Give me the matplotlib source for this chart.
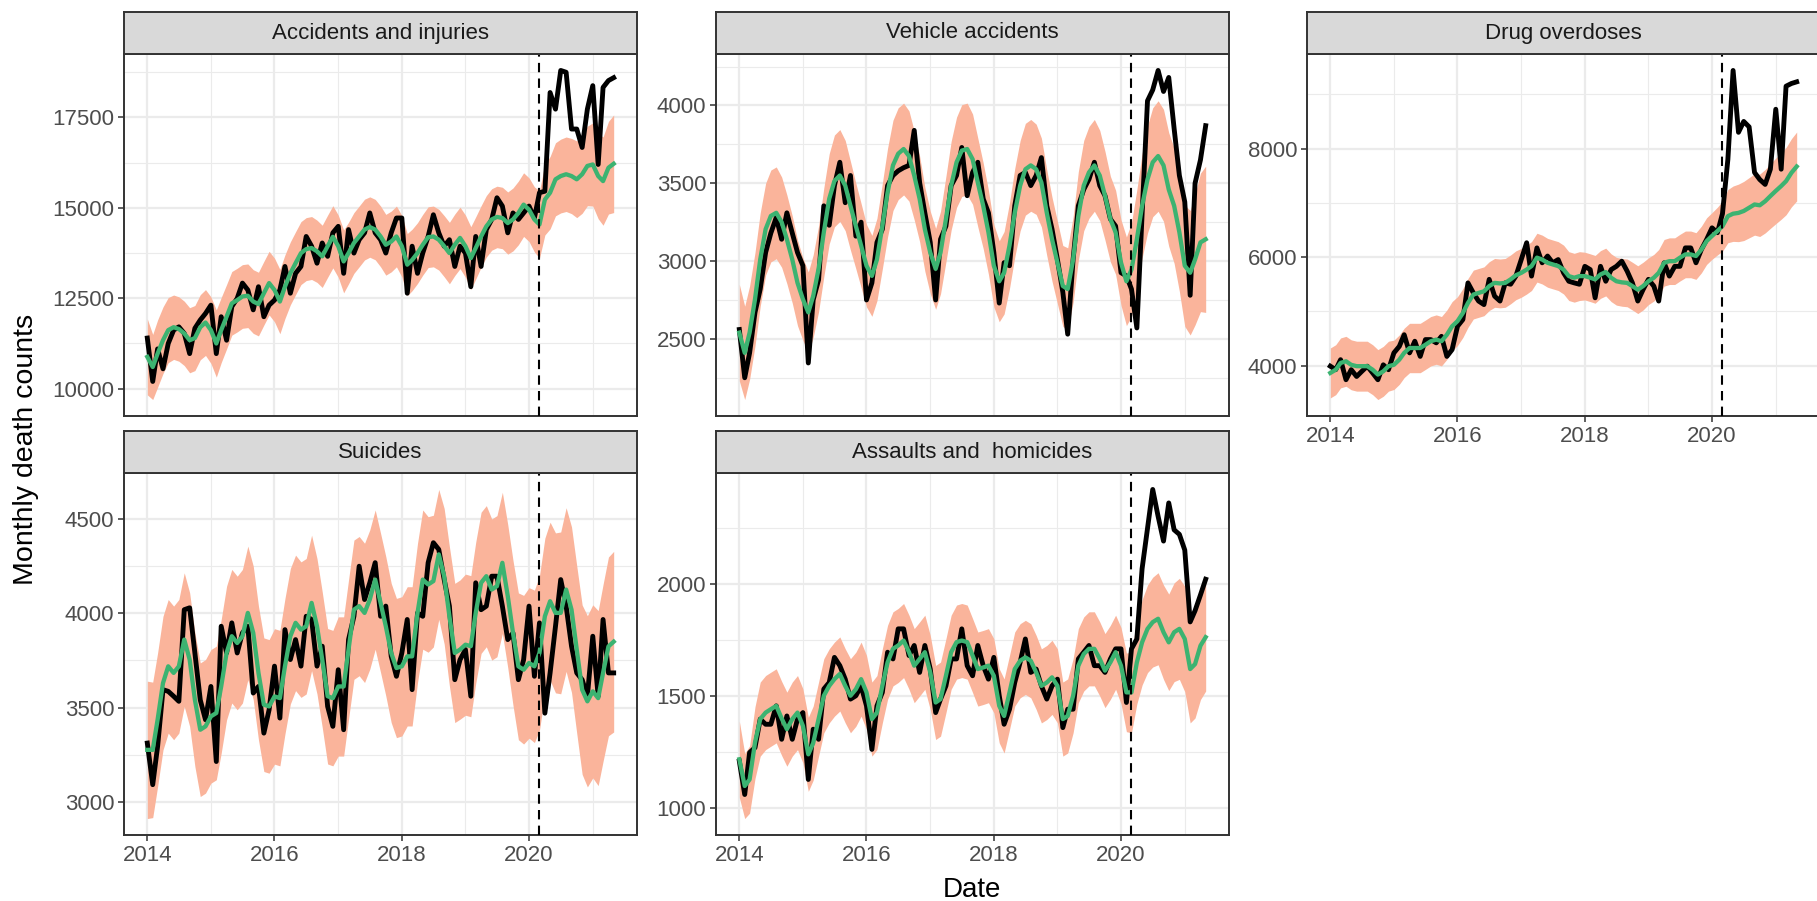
import numpy as np
import pandas as pd
import matplotlib
matplotlib.use("Agg")
import matplotlib.pyplot as plt
import matplotlib.dates as mdates
from matplotlib.ticker import MultipleLocator

plt.rcParams['font.family'] = ['Liberation Sans', 'DejaVu Sans']

# monthly series, Jan 2014 .. May 2021
months = pd.date_range("2014-01-01", "2021-05-01", freq="MS")
covid_start = pd.Timestamp("2020-03-01")

# Accidents and injuries: observed, expected, half-width of prediction band
acc_obs = [11400, 10200, 11100, 10550, 11250, 11620, 11710, 11530, 10970, 11670, 11900, 12080,
           12310, 10970, 11990, 11340, 12270, 12500, 12920, 12730, 12180, 12820, 11990, 12310,
           12450, 12730, 13380, 12640, 13190, 13380, 14210, 13940, 13470, 14030, 13660, 14310,
           14490, 13190, 14400, 13750, 14120, 14310, 14860, 14310, 14120, 13750, 14310, 14720,
           14720, 12640, 13940, 13190, 13750, 14210, 14810, 14310, 13940, 14120, 13380, 13940,
           13750, 12820, 14210, 13380, 14400, 14680, 15280, 15050, 14310, 14860, 14680, 14860,
           15050, 14720, 15420, 15460, 18190, 17730, 18800, 18750, 17180, 17180, 16670, 17730,
           18380, 16200, 18330, 18520, 18600]
acc_exp = [10880, 10600, 10970, 11340, 11620, 11700, 11650, 11530, 11340, 11400, 11700, 11830,
           11620, 11250, 11620, 11990, 12360, 12450, 12550, 12570, 12410, 12340, 12640, 12920,
           12730, 12410, 12820, 13190, 13470, 13750, 13860, 13890, 13800, 13660, 13940, 14200,
           13940, 13520, 13750, 14030, 14210, 14400, 14470, 14400, 14210, 13980, 14070, 14210,
           13940, 13430, 13560, 13750, 13980, 14190, 14210, 14120, 13940, 13750, 13980, 14170,
           13940, 13610, 13890, 14210, 14490, 14680, 14750, 14720, 14580, 14680, 14860, 15090,
           14950, 14680, 14540, 15230, 15420, 15790, 15880, 15930, 15880, 15790, 15930, 16160,
           16200, 15880, 15740, 16110, 16220]
acc_hw = [1050, 900, 930, 920, 900, 890, 890, 890, 900, 900, 900, 910,
          920, 930, 900, 890, 880, 880, 880, 880, 880, 880, 880, 880,
          880, 890, 880, 870, 870, 870, 870, 870, 860, 860, 860, 860,
          860, 870, 850, 840, 840, 840, 835, 835, 840, 840, 840, 840,
          850, 860, 850, 840, 840, 840, 840, 840, 845, 850, 850, 850,
          860, 870, 860, 850, 850, 850, 850, 850, 860, 870, 880, 880,
          880, 900, 930, 980, 1000, 1010, 1020, 1030, 1040, 1060, 1080, 1100,
          1150, 1180, 1220, 1280, 1350]

# Vehicle accidents
veh_obs = [2560, 2250, 2410, 2670, 2820, 3055, 3180, 3280, 3140, 3310, 3180, 3055,
           2970, 2345, 2750, 2880, 3355, 3230, 3485, 3635, 3375, 3550, 3160, 3250,
           2750, 2860, 3120, 3205, 3485, 3550, 3580, 3600, 3615, 3840, 3505, 3310,
           3120, 2750, 3140, 3225, 3485, 3550, 3730, 3420, 3570, 3635, 3400, 3310,
           3055, 2730, 2990, 2970, 3355, 3550, 3570, 3485, 3550, 3665, 3355, 3205,
           3010, 2800, 2530, 3010, 3355, 3460, 3525, 3635, 3485, 3420, 3270, 3225,
           2925, 2905, 2820, 2570, 3300, 4030, 4100, 4225, 4090, 4180, 3850, 3550,
           3380, 2780, 3500, 3650, 3870]
veh_exp = [2540, 2410, 2540, 2755, 3010, 3205, 3290, 3310, 3250, 3140, 3010, 2860,
           2755, 2670, 2775, 2950, 3185, 3400, 3515, 3550, 3485, 3355, 3225, 3100,
           2970, 2905, 3010, 3225, 3440, 3615, 3690, 3720, 3675, 3550, 3400, 3205,
           3055, 2950, 3055, 3270, 3485, 3635, 3710, 3720, 3655, 3505, 3355, 3185,
           2970, 2870, 2925, 3100, 3310, 3485, 3590, 3615, 3590, 3505, 3310, 3140,
           2990, 2840, 2820, 3010, 3290, 3485, 3570, 3615, 3550, 3420, 3270, 3185,
           2990, 2870, 2945, 3140, 3355, 3525, 3635, 3675, 3615, 3460, 3355, 3185,
           2970, 2925, 3010, 3120, 3140]
veh_hw = [310, 300, 300, 300, 300, 295, 295, 295, 290, 285, 280, 275,
          265, 260, 265, 275, 285, 290, 295, 295, 290, 285, 275, 270,
          265, 260, 265, 275, 285, 290, 295, 295, 290, 285, 275, 270,
          265, 260, 265, 275, 285, 290, 295, 295, 290, 285, 275, 270,
          265, 260, 265, 275, 285, 290, 295, 295, 290, 285, 275, 270,
          265, 260, 265, 275, 285, 290, 295, 295, 290, 285, 275, 270,
          275, 285, 300, 320, 335, 345, 350, 355, 360, 365, 370, 380,
          390, 400, 420, 445, 470]

# Drug overdoses
drug_obs = [3990, 3925, 4110, 3740, 3925, 3800, 3895, 3990, 3865, 3740, 4015, 3925,
            4235, 4355, 4570, 4235, 4450, 4170, 4480, 4480, 4420, 4540, 4170, 4295,
            4725, 4850, 5525, 5340, 5190, 5125, 5590, 5280, 5190, 5525, 5500, 5650,
            5955, 6265, 5650, 6170, 5895, 6020, 5895, 5955, 5710, 5555, 5525, 5500,
            5830, 5770, 5250, 5830, 5555, 5770, 5830, 5925, 5740, 5525, 5190, 5400,
            5590, 5465, 5190, 5895, 5650, 5830, 5830, 6170, 6170, 5895, 6140, 6325,
            6540, 6450, 6800, 7800, 9440, 8300, 8500, 8400, 7560, 7430, 7340, 7620,
            8725, 7620, 9150, 9200, 9230]
drug_exp = [3865, 3925, 4050, 4080, 4015, 3990, 3990, 3990, 3925, 3835, 3895, 3990,
            4015, 4110, 4235, 4325, 4325, 4325, 4385, 4450, 4480, 4450, 4570, 4725,
            4820, 4970, 5155, 5310, 5340, 5370, 5465, 5525, 5515, 5525, 5590, 5665,
            5710, 5770, 5835, 5990, 5955, 5895, 5865, 5835, 5770, 5650, 5620, 5650,
            5650, 5620, 5590, 5680, 5725, 5620, 5555, 5535, 5525, 5465, 5400, 5465,
            5555, 5620, 5710, 5895, 5925, 5925, 5990, 6050, 6050, 6020, 6140, 6295,
            6390, 6480, 6570, 6755, 6800, 6815, 6850, 6910, 6970, 6955, 7030, 7125,
            7220, 7310, 7400, 7555, 7670]
drug_hw = [460, 460, 460, 460, 460, 460, 460, 460, 460, 460, 460, 460,
           455, 455, 455, 455, 455, 455, 455, 455, 455, 455, 455, 455,
           450, 450, 450, 450, 450, 450, 450, 450, 450, 450, 450, 450,
           450, 450, 450, 450, 450, 450, 450, 450, 450, 450, 450, 450,
           440, 440, 440, 440, 440, 440, 440, 440, 440, 440, 440, 440,
           430, 430, 430, 430, 430, 430, 430, 430, 430, 430, 430, 430,
           430, 440, 460, 490, 510, 530, 545, 555, 565, 575, 585, 595,
           605, 612, 620, 628, 635]

# Suicides
sui_obs = [3311, 3090, 3293, 3595, 3586, 3560, 3533, 4020, 4030, 3790, 3540, 3435,
           3612, 3213, 3932, 3790, 3950, 3790, 3897, 3932, 3577, 3612, 3364, 3488,
           3720, 3444, 3914, 3755, 3861, 3720, 3985, 3968, 3720, 3826, 3506, 3400,
           3701, 3382, 3861, 3985, 4251, 4074, 4163, 4270, 3985, 4039, 3772, 3666,
           3790, 3968, 3595, 4003, 3985, 4270, 4376, 4340, 4180, 4039, 3648, 3754,
           3808, 3560, 4163, 4020, 4039, 4198, 4198, 4039, 3861, 3896, 3648, 3754,
           4039, 3666, 3950, 3470, 3684, 3932, 4180, 4039, 3826, 3684, 3648, 3560,
           3879, 3560, 3968, 3684, 3684]
sui_exp = [3275, 3275, 3435, 3630, 3719, 3684, 3719, 3861, 3755, 3542, 3382, 3400,
           3453, 3471, 3612, 3790, 3879, 3843, 3879, 4003, 3897, 3684, 3515, 3506,
           3559, 3550, 3719, 3879, 3950, 3914, 3932, 4056, 3932, 3755, 3560, 3550,
           3612, 3612, 3808, 4020, 4039, 4003, 4074, 4180, 4056, 3932, 3790, 3710,
           3719, 3772, 3772, 4003, 4180, 4154, 4172, 4314, 4198, 3985, 3790, 3808,
           3834, 3826, 4003, 4163, 4198, 4127, 4145, 4269, 4092, 3897, 3719, 3701,
           3737, 3719, 3790, 3985, 4065, 4003, 4003, 4127, 4020, 3808, 3595, 3533,
           3586, 3550, 3684, 3825, 3850]
sui_hw = [365, 360, 355, 355, 355, 355, 355, 355, 355, 355, 355, 355,
          355, 355, 355, 355, 355, 355, 355, 355, 355, 355, 355, 355,
          360, 360, 360, 360, 360, 360, 360, 360, 360, 360, 360, 360,
          370, 370, 370, 370, 370, 370, 370, 370, 370, 370, 370, 370,
          370, 370, 370, 370, 370, 360, 350, 345, 360, 370, 370, 370,
          375, 375, 375, 375, 375, 375, 375, 375, 380, 385, 390, 395,
          400, 405, 410, 415, 420, 425, 430, 435, 440, 445, 450, 455,
          460, 465, 470, 475, 480]

# Assaults and homicides
asl_obs = [1210, 1061, 1248, 1270, 1397, 1374, 1374, 1456, 1307, 1411, 1307, 1397,
           1426, 1128, 1352, 1307, 1531, 1560, 1672, 1635, 1575, 1486, 1501, 1545,
           1456, 1262, 1456, 1516, 1695, 1665, 1799, 1799, 1680, 1725, 1605, 1725,
           1620, 1426, 1486, 1545, 1665, 1665, 1799, 1635, 1590, 1725, 1635, 1575,
           1672, 1501, 1374, 1441, 1560, 1650, 1754, 1605, 1620, 1545, 1486, 1545,
           1575, 1359, 1441, 1441, 1665, 1695, 1725, 1635, 1635, 1605, 1665, 1710,
           1710, 1471, 1710, 1754, 2067, 2246, 2420, 2300, 2190, 2360, 2240, 2220,
           2150, 1830, 1880, 1950, 2020]
asl_exp = [1218, 1099, 1128, 1292, 1397, 1426, 1441, 1456, 1400, 1352, 1397, 1426,
           1367, 1240, 1290, 1397, 1501, 1545, 1575, 1598, 1545, 1501, 1530, 1575,
           1516, 1397, 1426, 1545, 1650, 1710, 1725, 1747, 1695, 1635, 1665, 1695,
           1605, 1471, 1486, 1590, 1695, 1740, 1747, 1740, 1680, 1620, 1627, 1635,
           1590, 1456, 1411, 1516, 1620, 1657, 1672, 1657, 1605, 1545, 1560, 1583,
           1545, 1397, 1411, 1501, 1635, 1687, 1710, 1710, 1665, 1613, 1650, 1695,
           1635, 1516, 1516, 1650, 1739, 1799, 1829, 1844, 1784, 1739, 1784, 1799,
           1754, 1620, 1642, 1724, 1762]
asl_hw = [170, 145, 150, 160, 165, 165, 165, 165, 165, 165, 165, 165,
          165, 165, 165, 165, 165, 165, 165, 165, 165, 165, 165, 165,
          165, 165, 165, 165, 165, 165, 165, 165, 165, 165, 165, 165,
          165, 165, 165, 165, 165, 165, 165, 165, 165, 165, 165, 165,
          165, 165, 165, 165, 165, 165, 165, 165, 165, 165, 165, 165,
          165, 165, 165, 165, 165, 165, 165, 165, 165, 165, 165, 165,
          170, 175, 180, 185, 190, 195, 200, 205, 210, 215, 220, 225,
          235, 240, 240, 240, 240]

panels = [
    # title, observed, expected, band, y tick step, pixel box (left, top), x axis shown
    ("Accidents and injuries", acc_obs, acc_exp, acc_hw, 2500, (124, 54), False),
    ("Vehicle accidents", veh_obs, veh_exp, veh_hw, 500, (716, 54), False),
    ("Drug overdoses", drug_obs, drug_exp, drug_hw, 2000, (1307, 54), True),
    ("Suicides", sui_obs, sui_exp, sui_hw, 500, (124, 473), True),
    ("Assaults and  homicides", asl_obs, asl_exp, asl_hw, 500, (716, 473), True),
]

W, H = 1817, 901
PW, PH, SH = 513, 362, 42
fig = plt.figure(figsize=(W / 100, H / 100), dpi=100)


def px_axes(left, top, w, h):
    return fig.add_axes([left / W, 1 - (top + h) / H, w / W, h / H])


for title, obs, exp, hw, step, (left, top), show_x in panels:
    obs = np.array(obs, dtype=float)
    exp = np.array(exp, dtype=float)
    hw = np.array(hw, dtype=float)

    ax = px_axes(left, top, PW, PH)
    ax.fill_between(months, exp - hw, exp + hw, color="#FAB49B", lw=0, zorder=1)
    ax.plot(months, obs, color="black", lw=3.5, solid_joinstyle="round", zorder=2)
    ax.plot(months, exp, color="#3CB371", lw=3.1, solid_joinstyle="round", zorder=3)
    ax.axvline(covid_start, color="black", lw=1.5, ls=(0, (4.5, 3)), zorder=4)

    ax.set_axisbelow(True)
    ax.yaxis.set_major_locator(MultipleLocator(step))
    ax.yaxis.set_minor_locator(MultipleLocator(step / 2))
    ax.xaxis.set_major_locator(mdates.YearLocator(2))
    ax.xaxis.set_minor_locator(mdates.YearLocator(1))
    ax.xaxis.set_major_formatter(mdates.DateFormatter("%Y"))
    ax.grid(which="major", color="#EBEBEB", lw=1.6)
    ax.grid(which="minor", color="#EBEBEB", lw=0.8)

    ax.tick_params(which="major", length=4, width=1.1, color="#333333",
                   labelsize=16, labelcolor="#4D4D4D", pad=3)
    ax.tick_params(which="minor", length=0)
    if not show_x:
        ax.tick_params(axis="x", which="both", bottom=False, labelbottom=False)
    for sp in ax.spines.values():
        sp.set_color("#333333")
        sp.set_linewidth(1.4)

    # facet strip
    st = px_axes(left, top - SH, PW, SH)
    st.set_facecolor("#D9D9D9")
    st.set_xticks([])
    st.set_yticks([])
    for sp in st.spines.values():
        sp.set_color("#333333")
        sp.set_linewidth(1.4)
    st.text(0.5, 0.5, title, transform=st.transAxes, ha="center", va="center",
            fontsize=16, color="#1A1A1A")

fig.text(26 / W, 1 - 449 / H, "Monthly death counts", rotation=90,
         ha="center", va="center", fontsize=20.5, color="black")
fig.text(972 / W, 1 - 897 / H, "Date", ha="center", va="baseline",
         fontsize=20, color="black")

fig.savefig("out.png", dpi=100)
